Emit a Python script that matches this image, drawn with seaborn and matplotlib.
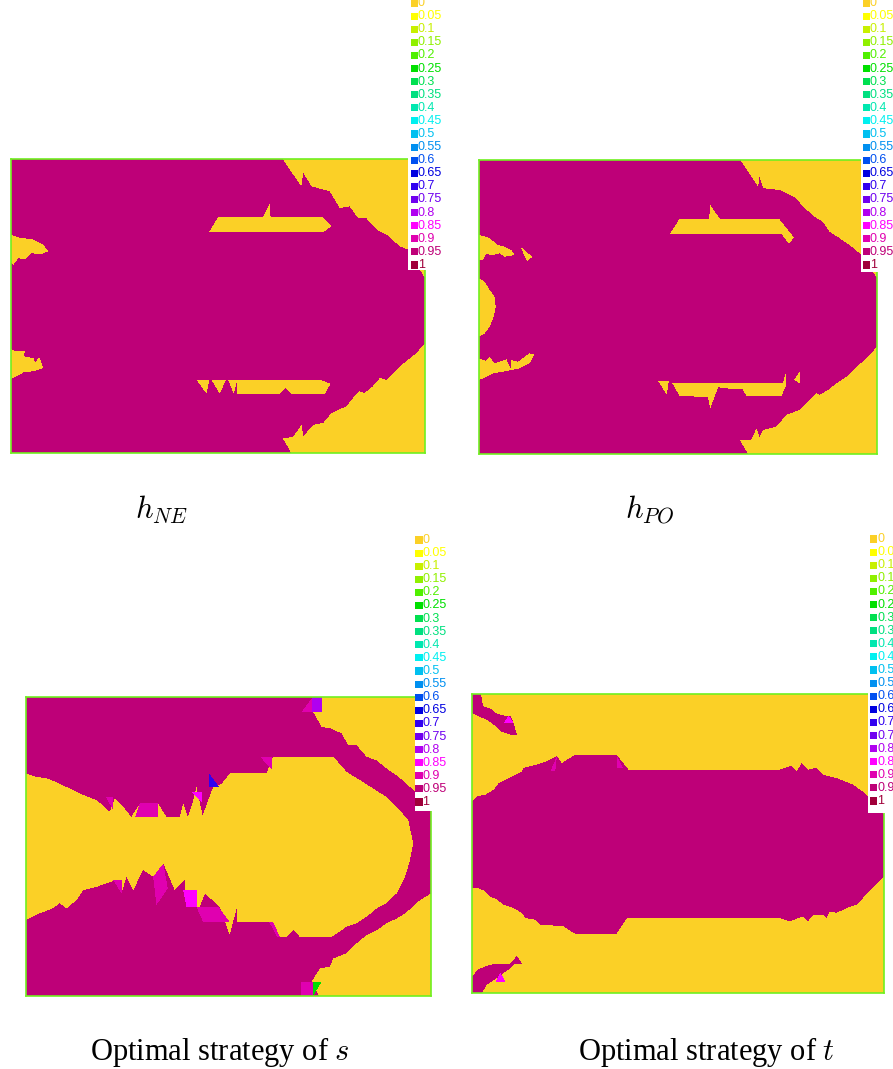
import numpy as np
import matplotlib
matplotlib.use("Agg")
import matplotlib.pyplot as plt
from matplotlib.colors import ListedColormap, BoundaryNorm
from matplotlib.path import Path
import seaborn as sns

# colour scale shared by all four maps
LEVELS = [0, 0.05, 0.1, 0.15, 0.2, 0.25, 0.3, 0.35, 0.4, 0.45, 0.5,
          0.55, 0.6, 0.65, 0.7, 0.75, 0.8, 0.85, 0.9, 0.95, 1]
LEVEL_LABELS = ["0", "0.05", "0.1", "0.15", "0.2", "0.25", "0.3", "0.35", "0.4", "0.45", "0.5",
                "0.55", "0.6", "0.65", "0.7", "0.75", "0.8", "0.85", "0.9", "0.95", "1"]
LEVEL_COLORS = ["#FBD026", "#FFFF00", "#C8F000", "#90F000", "#50F000", "#00E000", "#00E050",
                "#00E080", "#00E8B0", "#00F0F0", "#00C0F0", "#0090F0", "#0050F0", "#0000E0",
                "#3000F0", "#7000F0", "#B000F0", "#FF00FF", "#E000B0", "#BE0078", "#A0003A"]

# region outlines: (x, y) as fractions of the plot box, y measured from the top

# h_NE -- value 1 everywhere except these value-0 regions
NE_TOP_RIGHT = [(0.656, 0), (0.701, 0.093), (0.706, 0.048), (0.726, 0.093), (0.770, 0.110),
                (0.794, 0.167), (0.818, 0.161), (0.838, 0.201), (0.858, 0.201), (0.883, 0.240),
                (0.907, 0.257), (0.939, 0.297), (0.959, 0.308), (1, 0.405), (1, 0)]
NE_UPPER_BAR = [(0.478, 0.249), (0.500, 0.198), (0.609, 0.198), (0.625, 0.150), (0.627, 0.198),
                (0.754, 0.198), (0.774, 0.229), (0.754, 0.249)]
NE_LOWER_BAR = [(0.448, 0.751), (0.746, 0.751), (0.772, 0.764), (0.758, 0.799), (0.677, 0.799),
                (0.664, 0.779), (0.649, 0.799), (0.546, 0.799), (0.546, 0.753), (0.538, 0.798),
                (0.525, 0.753), (0.519, 0.753), (0.504, 0.798), (0.485, 0.753), (0.479, 0.753),
                (0.472, 0.798)]
NE_LEFT_UPPER = [(0, 0.257), (0.022, 0.269), (0.050, 0.272), (0.078, 0.291), (0.090, 0.314),
                 (0.070, 0.325), (0.050, 0.320), (0.034, 0.342), (0.018, 0.337), (0.006, 0.359),
                 (0, 0.354)]
NE_LEFT_LOWER = [(0, 0.646), (0.010, 0.654), (0.034, 0.652), (0.030, 0.671), (0.054, 0.677),
                 (0.058, 0.694), (0.068, 0.673), (0.078, 0.711), (0.054, 0.722), (0.030, 0.726),
                 (0.006, 0.745), (0, 0.748)]
NE_BOTTOM_RIGHT = [(1, 0.626), (0.979, 0.660), (0.959, 0.683), (0.939, 0.705), (0.923, 0.728),
                   (0.907, 0.751), (0.891, 0.745), (0.874, 0.773), (0.854, 0.796), (0.842, 0.790),
                   (0.826, 0.813), (0.810, 0.841), (0.774, 0.864), (0.754, 0.898), (0.730, 0.904),
                   (0.706, 0.943), (0.702, 0.904), (0.681, 0.946), (0.656, 0.949), (0.677, 1), (1, 1)]

# h_PO -- value 1 everywhere except these value-0 regions
PO_TOP_RIGHT = [(0.657, 0), (0.701, 0.091), (0.705, 0.057), (0.714, 0.096), (0.755, 0.102),
                (0.797, 0.130), (0.814, 0.159), (0.848, 0.198), (0.864, 0.210), (0.881, 0.244),
                (0.906, 0.266), (0.931, 0.289), (0.961, 0.323), (1, 0.402), (1, 0)]
PO_UPPER_BAR = [(0.479, 0.252), (0.503, 0.202), (0.578, 0.202), (0.581, 0.153), (0.606, 0.202),
                (0.755, 0.202), (0.791, 0.263), (0.779, 0.286), (0.760, 0.252)]
PO_LOWER_BAR = [(0.486, 0.757), (0.764, 0.757), (0.771, 0.723), (0.772, 0.765), (0.760, 0.803),
                (0.672, 0.803), (0.662, 0.780), (0.642, 0.780), (0.601, 0.773), (0.581, 0.845),
                (0.575, 0.807), (0.554, 0.805), (0.504, 0.803), (0.486, 0.760)]
PO_LOWER_TOOTH = [(0.450, 0.752), (0.477, 0.752), (0.472, 0.799)]
PO_RIGHT_TOOTH = [(0.791, 0.748), (0.806, 0.720), (0.807, 0.760)]
PO_LEFT_UPPER = [(0, 0.255), (0.023, 0.263), (0.048, 0.289), (0.064, 0.295), (0.081, 0.306),
                 (0.090, 0.323), (0.064, 0.329), (0.052, 0.317), (0.035, 0.323), (0.018, 0.320),
                 (0.010, 0.340), (0, 0.340)]
PO_LEFT_ISLAND = [(0.104, 0.295), (0.134, 0.329), (0.121, 0.346)]
PO_LEFT_BULGE = [(0, 0.402), (0.014, 0.414), (0.027, 0.442), (0.039, 0.465), (0.042, 0.499),
                 (0.037, 0.533), (0.027, 0.567), (0.014, 0.590), (0, 0.601)]
PO_LEFT_LOWER = [(0, 0.675), (0.018, 0.683), (0.027, 0.669), (0.039, 0.692), (0.052, 0.686),
                 (0.069, 0.678), (0.079, 0.709), (0.081, 0.680), (0.098, 0.686), (0.126, 0.658),
                 (0.140, 0.660), (0.127, 0.692), (0.101, 0.709), (0.060, 0.720), (0.035, 0.726),
                 (0.010, 0.743), (0, 0.748)]
PO_BOTTOM_RIGHT = [(1, 0.635), (0.973, 0.675), (0.940, 0.714), (0.923, 0.737), (0.898, 0.760),
                   (0.877, 0.782), (0.856, 0.799), (0.848, 0.794), (0.822, 0.828), (0.806, 0.850),
                   (0.772, 0.867), (0.747, 0.907), (0.714, 0.918), (0.705, 0.943), (0.697, 0.913),
                   (0.684, 0.952), (0.655, 0.952), (0.676, 1), (1, 1)]

# optimal strategy of s -- value 1 background, value-0 regions plus a few mixed cells
S_TOP_RIGHT = [(0.730, 0), (0.709, 0.050), (0.730, 0.100), (0.755, 0.106), (0.779, 0.122),
               (0.796, 0.161), (0.816, 0.161), (0.841, 0.200), (0.866, 0.212), (0.890, 0.239),
               (0.915, 0.262), (0.940, 0.290), (0.960, 0.317), (1, 0.345), (1, 0)]
S_MIDDLE = [(0, 0.256), (0.026, 0.267), (0.054, 0.273), (0.083, 0.290), (0.100, 0.301),
            (0.133, 0.323), (0.174, 0.345), (0.190, 0.362), (0.207, 0.384), (0.219, 0.340),
            (0.240, 0.367), (0.260, 0.401), (0.281, 0.356), (0.326, 0.356), (0.347, 0.401),
            (0.380, 0.401), (0.388, 0.356), (0.400, 0.401), (0.413, 0.345), (0.421, 0.301),
            (0.436, 0.396), (0.462, 0.301), (0.483, 0.290), (0.503, 0.256), (0.528, 0.254),
            (0.594, 0.254), (0.610, 0.200), (0.627, 0.200), (0.759, 0.200), (0.792, 0.251),
            (0.825, 0.278), (0.857, 0.306), (0.890, 0.334), (0.923, 0.379), (0.944, 0.412),
            (0.956, 0.490), (0.948, 0.546), (0.936, 0.601), (0.915, 0.657), (0.890, 0.690),
            (0.866, 0.707), (0.841, 0.735), (0.816, 0.757), (0.792, 0.768), (0.755, 0.802),
            (0.676, 0.802), (0.660, 0.780), (0.643, 0.802), (0.627, 0.802), (0.602, 0.752),
            (0.520, 0.752), (0.520, 0.707), (0.503, 0.796), (0.478, 0.702), (0.442, 0.657),
            (0.429, 0.702), (0.396, 0.702), (0.392, 0.612), (0.367, 0.646), (0.339, 0.557),
            (0.322, 0.696), (0.314, 0.601), (0.289, 0.579), (0.277, 0.612), (0.265, 0.646),
            (0.248, 0.601), (0.236, 0.657), (0.223, 0.612), (0.174, 0.635), (0.141, 0.646),
            (0.125, 0.679), (0.100, 0.707), (0.083, 0.690), (0.066, 0.707), (0.033, 0.724),
            (0, 0.746)]
S_BOTTOM_RIGHT = [(1, 0.657), (0.973, 0.679), (0.936, 0.724), (0.915, 0.741), (0.890, 0.757),
                  (0.866, 0.780), (0.841, 0.796), (0.816, 0.824), (0.792, 0.857), (0.759, 0.874),
                  (0.750, 0.902), (0.726, 0.908), (0.705, 0.952), (0.724, 1), (1, 1)]
S_MIXED_TOP_A = [(0.680, 0.050), (0.705, 0.006), (0.705, 0.050)]
S_MIXED_TOP_B = [(0.705, 0), (0.730, 0), (0.730, 0.050), (0.705, 0.050)]
S_MIXED_1 = [(0.452, 0.256), (0.452, 0.301), (0.477, 0.301)]
S_MIXED_2 = [(0.409, 0.318), (0.434, 0.318), (0.434, 0.352)]
S_MIXED_3 = [(0.281, 0.356), (0.326, 0.356), (0.326, 0.401), (0.270, 0.401)]
S_MIXED_4 = [(0.197, 0.334), (0.215, 0.334), (0.215, 0.378)]
S_MIXED_5 = [(0.578, 0.200), (0.608, 0.200), (0.608, 0.245)]
S_MIXED_6 = [(0.314, 0.601), (0.339, 0.557), (0.350, 0.640), (0.322, 0.696)]
S_MIXED_7 = [(0.388, 0.646), (0.421, 0.646), (0.421, 0.702), (0.396, 0.702)]
S_MIXED_8 = [(0.421, 0.702), (0.475, 0.702), (0.503, 0.752), (0.437, 0.752)]
S_MIXED_9 = [(0.600, 0.752), (0.610, 0.752), (0.627, 0.802), (0.620, 0.802)]
S_MIXED_10 = [(0.215, 0.612), (0.236, 0.612), (0.236, 0.657)]
S_MIXED_BOTTOM_A = [(0.680, 0.952), (0.709, 0.952), (0.709, 1), (0.680, 1)]
S_MIXED_BOTTOM_B = [(0.709, 0.952), (0.730, 0.952), (0.709, 1)]

# optimal strategy of t -- value 0 background, value-1 regions
T_MIDDLE = [(0, 0.359), (0.012, 0.342), (0.032, 0.337), (0.053, 0.320), (0.065, 0.298),
            (0.089, 0.281), (0.121, 0.259), (0.125, 0.247), (0.158, 0.236), (0.182, 0.225),
            (0.206, 0.208), (0.218, 0.231), (0.250, 0.203), (0.351, 0.203), (0.380, 0.253),
            (0.747, 0.253), (0.775, 0.240), (0.788, 0.259), (0.800, 0.231), (0.816, 0.253),
            (0.836, 0.247), (0.852, 0.270), (0.885, 0.281), (0.925, 0.303), (0.953, 0.331),
            (0.990, 0.381), (1, 0.404), (1, 0.610), (0.969, 0.654), (0.933, 0.705),
            (0.909, 0.716), (0.885, 0.732), (0.868, 0.727), (0.860, 0.749), (0.852, 0.738),
            (0.828, 0.738), (0.816, 0.760), (0.804, 0.744), (0.771, 0.760), (0.747, 0.749),
            (0.376, 0.749), (0.351, 0.802), (0.250, 0.802), (0.222, 0.777), (0.166, 0.771),
            (0.153, 0.755), (0.129, 0.749), (0.121, 0.732), (0.101, 0.716), (0.077, 0.705),
            (0.061, 0.688), (0.044, 0.677), (0.032, 0.660), (0.016, 0.649), (0, 0.649)]
T_TOP_LEFT = [(0, 0), (0.022, 0), (0.027, 0.041), (0.048, 0.050), (0.057, 0.064), (0.077, 0.072),
              (0.093, 0.072), (0.101, 0.097), (0.109, 0.136), (0.093, 0.136), (0.069, 0.125),
              (0.053, 0.103), (0.036, 0.086), (0.016, 0.075), (0, 0.064)]
T_BOTTOM_LEFT = [(0, 0.944), (0.016, 0.920), (0.036, 0.909), (0.057, 0.902), (0.093, 0.902),
                 (0.109, 0.875), (0.121, 0.902), (0.101, 0.905), (0.089, 0.922), (0.077, 0.933),
                 (0.061, 0.950), (0.036, 0.972), (0.024, 1), (0, 1)]
T_MIXED_1 = [(0.077, 0.097), (0.089, 0.072), (0.101, 0.097)]
T_MIXED_2 = [(0.057, 0.962), (0.069, 0.932), (0.081, 0.962)]
T_MIXED_3 = [(0.190, 0.259), (0.206, 0.208), (0.202, 0.259)]
T_MIXED_4 = [(0.351, 0.203), (0.367, 0.248), (0.351, 0.248)]

NE_REGIONS = [(0, NE_TOP_RIGHT), (0, NE_UPPER_BAR), (0, NE_LOWER_BAR), (0, NE_LEFT_UPPER),
              (0, NE_LEFT_LOWER), (0, NE_BOTTOM_RIGHT)]
PO_REGIONS = [(0, PO_TOP_RIGHT), (0, PO_UPPER_BAR), (0, PO_LOWER_BAR), (0, PO_LOWER_TOOTH),
              (0, PO_RIGHT_TOOTH), (0, PO_LEFT_UPPER), (0, PO_LEFT_ISLAND), (0, PO_LEFT_BULGE),
              (0, PO_LEFT_LOWER), (0, PO_BOTTOM_RIGHT)]
S_REGIONS = [(0, S_TOP_RIGHT), (0, S_MIDDLE), (0, S_BOTTOM_RIGHT),
             (0.9, S_MIXED_TOP_A), (0.8, S_MIXED_TOP_B), (0.7, S_MIXED_1), (0.85, S_MIXED_2),
             (0.9, S_MIXED_3), (0.9, S_MIXED_4), (0.9, S_MIXED_5), (0.9, S_MIXED_6),
             (0.85, S_MIXED_7), (0.9, S_MIXED_8), (0.9, S_MIXED_9), (0.9, S_MIXED_10),
             (0.9, S_MIXED_BOTTOM_A), (0.25, S_MIXED_BOTTOM_B)]
T_REGIONS = [(1, T_MIDDLE), (1, T_TOP_LEFT), (1, T_BOTTOM_LEFT), (0.85, T_MIXED_1),
             (0.85, T_MIXED_2), (0.9, T_MIXED_3), (0.9, T_MIXED_4)]

W, H = 893, 1069
ROW_STEP = 13.1

# plot box (left, top, right, bottom) px, legend (left, right, bottom, first row y, square x), caption
PANELS = [
    dict(bg=1, regions=NE_REGIONS, box=(11, 159, 425, 453), legend=(408, 446, 270, 3, 414.5),
         caption=(162, 510, r"$h_{NE}$")),
    dict(bg=1, regions=PO_REGIONS, box=(479, 160, 877, 454), legend=(861, 893, 272, 3, 866.5),
         caption=(650, 510, r"$h_{PO}$")),
    dict(bg=1, regions=S_REGIONS, box=(26, 697, 431, 996), legend=(415, 446, 811, 540, 419),
         caption=(220, 1052, r"Optimal strategy of $s$")),
    dict(bg=0, regions=T_REGIONS, box=(472, 694, 884, 993), legend=(868, 893, 813, 539, 873.5),
         caption=(706, 1052, r"Optimal strategy of $t$")),
]


# Rasterise the outlined regions onto a grid of values
def region_grid(background, regions, nx, ny):
    xs = (np.arange(nx) + 0.5) / nx
    ys = (np.arange(ny) + 0.5) / ny
    gx, gy = np.meshgrid(xs, ys)
    pts = np.column_stack([gx.ravel(), gy.ravel()])
    field = np.full(nx * ny, float(background))
    for value, outline in regions:
        inside = Path(outline).contains_points(pts)
        field[inside] = value
    return field.reshape(ny, nx)


def px_rect(left, top, right, bottom):
    return [left / W, 1 - bottom / H, (right - left) / W, (bottom - top) / H]


plt.rcParams["mathtext.fontset"] = "cm"
fig = plt.figure(figsize=(W / 100, H / 100), dpi=100)

cmap = ListedColormap(LEVEL_COLORS[:-1])
norm = BoundaryNorm(LEVELS, cmap.N)

for panel in PANELS:
    left, top, right, bottom = panel["box"]
    ax = fig.add_axes(px_rect(left, top, right, bottom))
    field = region_grid(panel["bg"], panel["regions"], right - left, bottom - top)
    sns.heatmap(field, ax=ax, cmap=cmap, norm=norm, cbar=False,
                xticklabels=False, yticklabels=False)
    for sp in ax.spines.values():
        sp.set_visible(True)
        sp.set_color("#70F020")
        sp.set_linewidth(1.2)

    # discrete legend box in the upper right corner
    lg_left, lg_right, lg_bottom, row0, sq_x = panel["legend"]
    lg_top = row0 - 9
    lax = fig.add_axes(px_rect(lg_left, lg_top, lg_right, lg_bottom))
    lax.axis("off")
    lax.add_patch(plt.Rectangle((lg_left, lg_top), lg_right - lg_left, lg_bottom - lg_top,
                                facecolor="white", edgecolor="none", zorder=0))
    rows = [row0 + i * ROW_STEP for i in range(len(LEVELS))]
    sns.scatterplot(x=[sq_x] * len(LEVELS), y=rows, hue=LEVEL_LABELS, palette=LEVEL_COLORS,
                    marker="s", s=26, linewidth=0, legend=False, ax=lax, zorder=2)
    for y, label, color in zip(rows, LEVEL_LABELS, LEVEL_COLORS):
        lax.text(sq_x + 3.5, y, label, color=color, fontsize=9, family="Liberation Sans",
                 ha="left", va="center", clip_on=True)
    lax.set_xlim(lg_left, lg_right)
    lax.set_ylim(lg_bottom, lg_top)

    cx, cy, text = panel["caption"]
    fig.text(cx / W, 1 - cy / H, text, fontsize=22, family="Liberation Serif",
             ha="center", va="center")

fig.savefig("out.png", dpi=100)
